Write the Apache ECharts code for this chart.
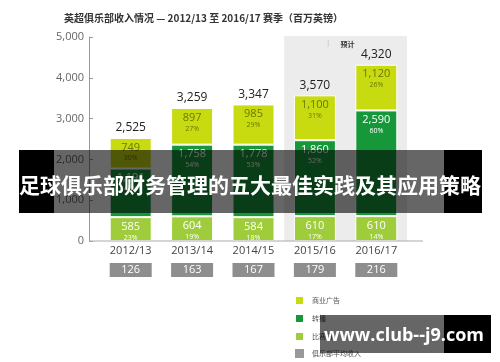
<!DOCTYPE html>
<html><head><meta charset="utf-8">
<script src="https://cdn.jsdelivr.net/npm/echarts@6/dist/echarts.min.js"></script>
<style>html,body{margin:0;padding:0;background:#fff}#c{width:500px;height:362px}</style>
</head><body><div id="c"></div>
<script>
var seasons = ['2012/13','2013/14','2014/15','2015/16','2016/17'];
var matchday = [585, 604, 584, 610, 610];
var matchdayPct = ['23%','19%','18%','17%','14%'];
var broadcast = [1191, 1758, 1778, 1860, 2590];
var broadcastPct = ['47%','54%','53%','52%','60%'];
var commercial = [749, 897, 985, 1100, 1120];
var commercialPct = ['30%','27%','29%','31%','26%'];
var totals = [2525, 3259, 3347, 3570, 4320];
var avgRevenue = [126, 163, 167, 179, 216];
var yTicks = [0, 1000, 2000, 3000, 4000, 5000];

function fmt(n){ return String(n).replace(/\B(?=(\d{3})+(?!\d))/g, ','); }
var FONT = '"Open Sans","Noto Sans CJK SC",sans-serif';
var CJK = '"Noto Sans CJK SC",sans-serif';

function segLabel(pcts, col){
  return {
    show: true, position: 'insideTop', distance: 3,
    formatter: function(p){ return '{v|' + fmt(p.value) + '}\n{p|' + pcts[p.dataIndex] + '}'; },
    rich: {
      v: {fontSize: 11, lineHeight: 13, color: col, fontFamily: FONT, align:'center'},
      p: {fontSize: 7, lineHeight: 9, color: col, fontFamily: FONT, align:'center'}
    }
  };
}

var chart = echarts.init(document.getElementById('c'), null, {renderer: 'canvas'});
chart.setOption({
  animation: false,
  textStyle: {fontFamily: FONT},
  title: {
    text: '英超俱乐部收入情况 — 2012/13 至 2016/17 赛季（百万英镑）',
    left: 59, top: 8,
    textStyle: {fontSize: 10, fontWeight: 'bold', color: '#333', fontFamily: CJK}
  },
  legend: {
    orient: 'vertical', left: 294, top: 295, height: 66, padding: 0,
    itemWidth: 9, itemHeight: 9, itemGap: 7, icon: 'rect', selectedMode: false,
    data: ['商业广告','转播','比赛日','俱乐部平均收入'],
    textStyle: {fontSize: 7, color: '#555', fontFamily: CJK, padding: [0,0,0,3]}
  },
  grid: {left: 100, right: 93, top: 37, bottom: 121},
  xAxis: [{
    type: 'category', data: seasons, position: 'bottom',
    axisLine: {show: false}, axisTick: {show: false},
    axisLabel: {color: '#444', fontSize: 11, margin: 4}
  },{
    type: 'category', data: seasons, position: 'bottom',
    axisLine: {show: false}, axisTick: {show: false},
    axisLabel: {
      margin: 22, color: '#fff', fontSize: 11,
      formatter: function(v, i){ return String(avgRevenue[i]); },
      backgroundColor: '#8e8e8e', width: 42, height: 14, lineHeight: 14, align: 'center', padding: 0
    }
  }],
  yAxis: {
    type: 'value', min: yTicks[0], max: yTicks[yTicks.length-1], interval: 1000, offset: 11,
    axisLine: {show: true, lineStyle: {color: '#999'}},
    axisTick: {show: true, inside: true, length: 4, lineStyle: {color: '#999'}},
    splitLine: {show: false},
    axisLabel: {color: '#666', fontSize: 11, margin: 5, formatter: function(v){ return fmt(v); }}
  },
  series: [
    {name: '比赛日', type: 'bar', stack: 's', barWidth: 42, data: matchday,
     itemStyle: {color: '#9fcc3a', borderColor: '#fff', borderWidth: 1}, label: segLabel(matchdayPct, '#fff')},
    {name: '转播', type: 'bar', stack: 's', data: broadcast,
     itemStyle: {color: '#16983a', borderColor: '#fff', borderWidth: 1}, label: segLabel(broadcastPct, '#fff')},
    {name: '商业广告', type: 'bar', stack: 's', data: commercial,
     itemStyle: {color: '#c8da10', borderColor: '#fff', borderWidth: 1}, label: segLabel(commercialPct, '#6b7a00')},
    {name: 'total', type: 'bar', stack: 's', data: totals.map(function(){return 0;}),
     itemStyle: {color: 'transparent'},
     label: {show: true, position: 'top', distance: 4, color: '#222', fontSize: 12,
       formatter: function(p){ return fmt(totals[p.dataIndex]); }}},
    {name: '俱乐部平均收入', type: 'bar', stack: 's', data: [], itemStyle: {color: '#999'}}
  ]
});

// decorations computed from the axes
var c3 = chart.convertToPixel({xAxisIndex: 0}, seasons[3]);
var c4 = chart.convertToPixel({xAxisIndex: 0}, seasons[4]);
var band = c4 - c3;
var yTop = chart.convertToPixel({yAxisIndex: 0}, yTicks[yTicks.length-1]);
var y0 = chart.convertToPixel({yAxisIndex: 0}, 0);
var c0 = chart.convertToPixel({xAxisIndex: 0}, seasons[0]);
var regL = c3 - band/2, regR = c4 + band/2;

chart.setOption({
  graphic: [
    {type: 'rect', z: -10, silent: true, shape: {x: regL, y: yTop - 1, width: regR - regL, height: y0 - yTop + 1},
     style: {fill: '#ececec'}},
    {type: 'line', z: 5, silent: true, shape: {x1: c0 - band/2 - 11, y1: y0, x2: regR + 16, y2: y0},
     style: {stroke: '#aaa', lineWidth: 1}},
    {type: 'line', z: 5, silent: true, shape: {x1: regL + 44, y1: yTop + 3, x2: regL + 44, y2: yTop + 10},
     style: {stroke: '#ccc', lineWidth: 1}},
    {type: 'text', z: 5, silent: true, x: c3 + band/2 + 2, y: yTop + 7,
     style: {text: '预计', font: 'bold 7px "Noto Sans CJK SC"', fill: '#333', textAlign: 'center', textVerticalAlign: 'middle'}},
    // overlay banner
    {type: 'rect', z: 100, silent: true, shape: {x: 19, y: 150, width: 35, height: 63}, style: {fill: '#000'}},
    {type: 'rect', z: 100, silent: true, shape: {x: 54, y: 150, width: 390, height: 63}, style: {fill: 'rgba(0,0,0,0.6)'}},
    {type: 'rect', z: 100, silent: true, shape: {x: 444, y: 150, width: 38, height: 63}, style: {fill: '#000'}},
    {type: 'text', z: 101, silent: true, x: 250, y: 185,
     style: {text: '足球俱乐部财务管理的五大最佳实践及其应用策略', font: 'bold 21px "Noto Sans CJK SC"', fill: '#fff', textAlign: 'center', textVerticalAlign: 'middle'}},
    // watermark
    {type: 'rect', z: 100, silent: true, shape: {x: 320, y: 315, width: 124, height: 38}, style: {fill: 'rgba(0,0,0,0.6)'}},
    {type: 'rect', z: 100, silent: true, shape: {x: 444, y: 315, width: 47, height: 38}, style: {fill: '#000'}},
    {type: 'text', z: 101, silent: true, x: 404, y: 336,
     style: {text: 'www.club--j9.com', font: 'bold 18px "Open Sans"', fill: '#fff', textAlign: 'center', textVerticalAlign: 'middle'}}
  ]
});
</script></body></html>
